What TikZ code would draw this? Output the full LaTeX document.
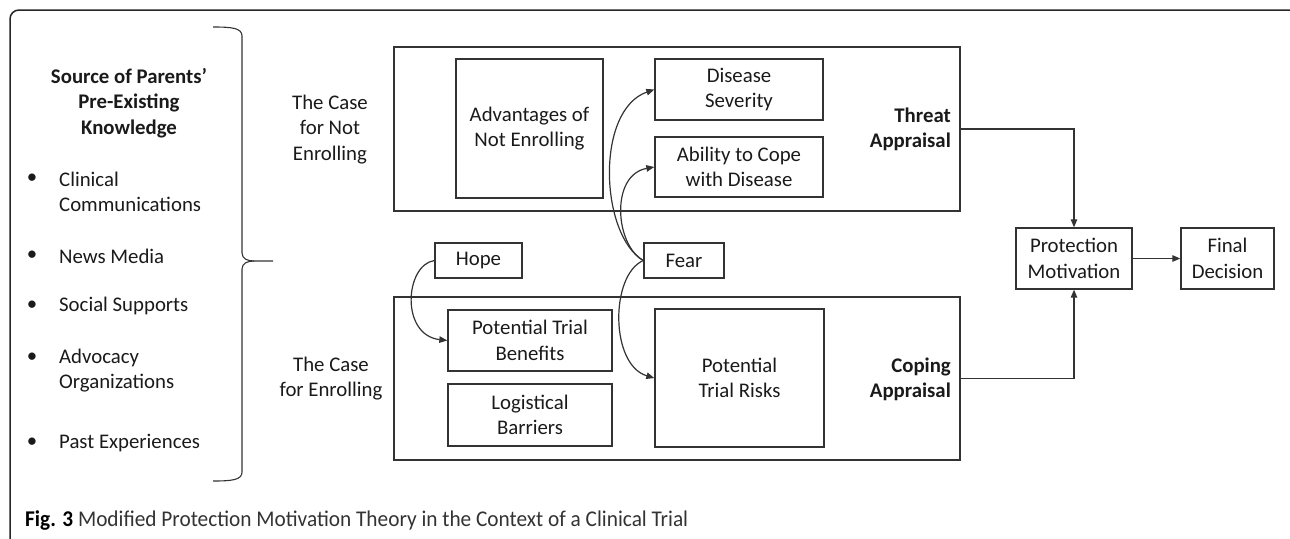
\documentclass[tikz,border=0pt]{standalone}
\usepackage{fontspec}
\usepackage{graphicx}
\setmainfont{Carlito}
\usetikzlibrary{arrows.meta}
\definecolor{linec}{HTML}{333333}
\definecolor{txtc}{HTML}{1A1A1A}
\newcommand\mainsize{\fontsize{20.8}{25.5}\selectfont}
\tikzset{
  bx/.style={draw=linec, line width=1.4pt, inner sep=0pt, align=center, text=txtc, font=\mainsize},
  bigbx/.style={draw=linec, line width=1.4pt, inner sep=0pt},
  lbl/.style={inner sep=0pt, align=center, text=txtc, font=\mainsize},
  boldlbl/.style={inner sep=0pt, align=right, text=txtc, font=\mainsize\bfseries},
  arr/.style={draw=linec, line width=1.2pt, -{Triangle[length=8pt,width=6.5pt]}},
  frame/.style={draw=black!85, line width=1.5pt, rounded corners=9pt}
}
\begin{document}
\begin{tikzpicture}[x=1pt,y=-1pt]
\useasboundingbox (0,0) rectangle (1290,538);
% outer frame (clipped by page)
\draw[frame] (10,10) rectangle (1310,560);

% left column
\node[lbl, font=\mainsize\bfseries] (src) at (129,103) {Source of Parents’\\Pre-Existing\\Knowledge};
\node[lbl] (b1) at (32,179) {•};
\node[lbl, anchor=west, align=left] (t1) at (59,192) {Clinical\\Communications};
\node[lbl] (b2) at (32,256) {•};
\node[lbl, anchor=west] (t2) at (59,256) {News Media};
\node[lbl] (b3) at (32,306) {•};
\node[lbl, anchor=west] (t3) at (59,306) {Social Supports};
\node[lbl] (b4) at (32,358) {•};
\node[lbl, anchor=west, align=left] (t4) at (59,370.5) {Advocacy\\Organizations};
\node[lbl] (b5) at (32,443) {•};
\node[lbl, anchor=west] (t5) at (59,443) {Past Experiences};

% brace
\draw[draw=linec, line width=1.1pt]
  (213,27) .. controls (232,27) and (242,28) .. (242,36) -- (242,253)
  .. controls (242,259) and (248,261) .. (254,261) -- (273,261);
\draw[draw=linec, line width=1.1pt]
  (254,261) .. controls (248,261) and (242,263) .. (242,269) -- (242,472)
  .. controls (242,480) and (232,481) .. (213,481);

% case labels
\node[lbl] (cn) at (330,129.5) {The Case\\for Not\\Enrolling};
\node[lbl] (ce) at (331,378.5) {The Case\\for Enrolling};

% big boxes
\node[bigbx, minimum width=566pt, minimum height=164pt] (threat) at (677,129) {};
\node[bigbx, minimum width=566pt, minimum height=163pt] (coping) at (677,378.5) {};
\node[boldlbl, anchor=east] (tlab) at (951,129.5) {Threat\\Appraisal};
\node[boldlbl, anchor=east] (clab) at (951,379.5) {Coping\\Appraisal};

% inner boxes
\node[bx, minimum width=147pt, minimum height=139pt] (adv) at (529.5,128.5) {Advantages of\\Not Enrolling};
\node[bx, minimum width=168pt, minimum height=61pt] (sev) at (739,89.5) {Disease\\Severity};
\node[bx, minimum width=168pt, minimum height=60pt] (cope) at (739,167) {Ability to Cope\\with Disease};
\node[bx, minimum width=87pt, minimum height=35pt] (hope) at (478.5,260.5) {Hope};
\node[bx, minimum width=80pt, minimum height=35pt] (fear) at (684,260.5) {Fear};
\node[bx, minimum width=164pt, minimum height=61pt] (ben) at (530,340.5) {Potential Trial\\Benefits};
\node[bx, minimum width=164pt, minimum height=62pt] (log) at (530,415) {Logistical\\Barriers};
\node[bx, minimum width=169pt, minimum height=138pt] (risk) at (739.5,378) {Potential\\Trial Risks};
\node[bx, minimum width=116pt, minimum height=61pt] (pm) at (1074,258.5) {Protection\\Motivation};
\node[bx, minimum width=93pt, minimum height=61pt] (fd) at (1227.5,258.5) {Final\\Decision};

% connectors
\draw[arr] (threat.east) -| (pm.north);
\draw[arr] (coping.east) -| (pm.south);
\draw[arr] (pm.east) -- (fd.west);
\draw[arr] (fear.west) .. controls (600,235) and (595,110) .. (sev.west);
\draw[arr] (fear.west) .. controls (615,245) and (610,175) .. (cope.west);
\draw[arr] (fear.west) .. controls (610,275) and (610,365) .. (risk.west);
\draw[arr] (hope.west) .. controls (405,265) and (400,335) .. (ben.west);

% caption
\node[anchor=base west, inner sep=0pt] (cap) at (25,526)
  {\resizebox{663pt}{\height}{\fontsize{22.5}{26}\selectfont\textbf{Fig. 3}\ \textcolor{black!80}{Modified Protection Motivation Theory in the Context of a Clinical Trial}}};
\end{tikzpicture}
\end{document}
